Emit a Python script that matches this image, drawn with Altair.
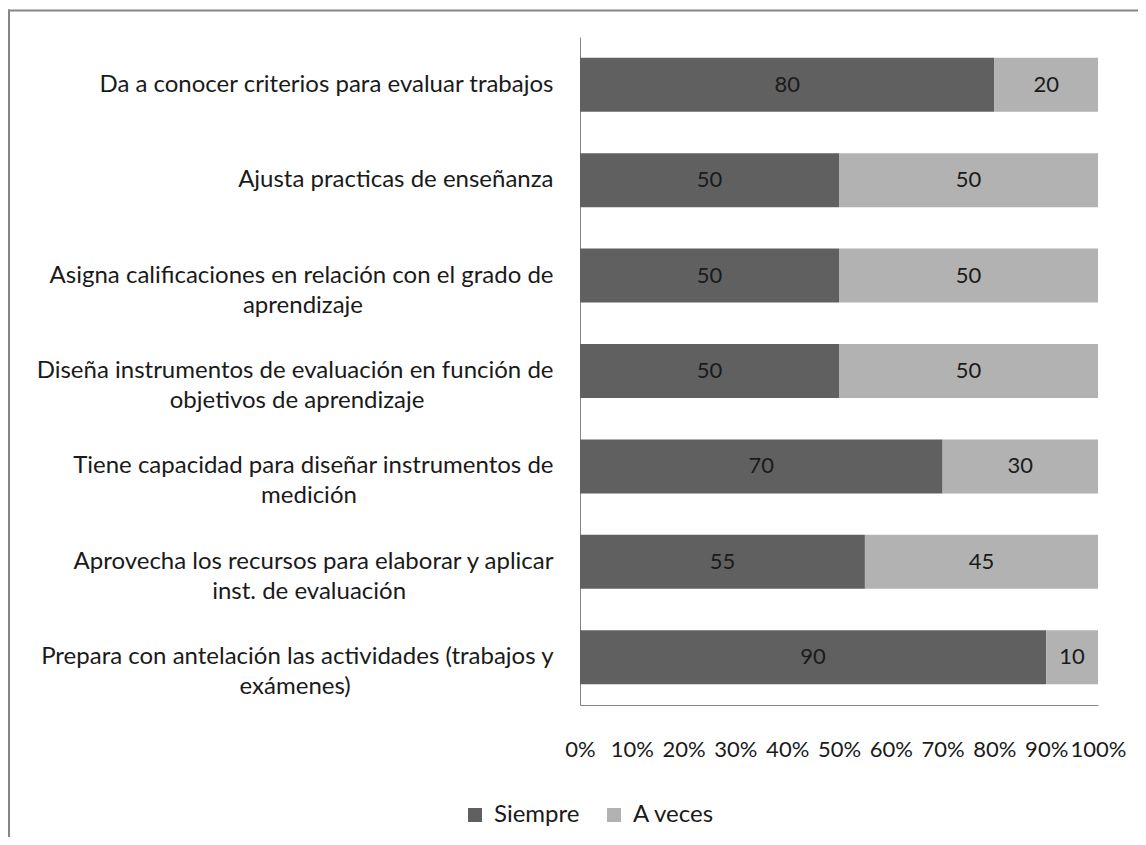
import altair as alt
import pandas as pd

# ---- data ----
categories = [
    ["Da a conocer criterios para evaluar trabajos"],
    ["Ajusta practicas de enseñanza"],
    ["Asigna calificaciones en relación con el grado de", "aprendizaje"],
    ["Diseña instrumentos de evaluación en función de", "objetivos de aprendizaje"],
    ["Tiene capacidad para diseñar instrumentos de", "medición"],
    ["Aprovecha los recursos para elaborar y aplicar", "inst. de evaluación"],
    ["Prepara con antelación las actividades (trabajos y", "exámenes)"],
]
siempre = [80, 50, 50, 50, 70, 55, 90]
a_veces = [20, 50, 50, 50, 30, 45, 10]
series = ["Siempre", "A veces"]
x_ticks = [0, 0.1, 0.2, 0.3, 0.4, 0.5, 0.6, 0.7, 0.8, 0.9, 1.0]

FONT = "Lato"
FS = 22
FS_CAT = 24

# rough glyph widths (em) to centre a second line under the first
_W = {"i": 0.23, "l": 0.23, "j": 0.23, "t": 0.33, "f": 0.31, "r": 0.36,
      " ": 0.19, ".": 0.2, "(": 0.3, ")": 0.3, "m": 0.83, "w": 0.75}
NBSP_EM = 0.25


def text_w(s):
    tot = 0.0
    for ch in s:
        if ch in _W:
            tot += _W[ch]
        elif ch.isupper():
            tot += 0.65
        else:
            tot += 0.52
    return tot


def make_label(lines):
    if len(lines) == 1:
        return lines[0]
    pad = max(0, round((text_w(lines[0]) - text_w(lines[1])) / 2 / NBSP_EM))
    return lines[0] + "\n" + lines[1] + "\u00a0" * pad + "\u200b"


labels = [make_label(c) for c in categories]

rows = []
for lab, s, a in zip(labels, siempre, a_veces):
    rows.append({"cat": lab, "serie": series[0], "value": s, "orden": 0})
    rows.append({"cat": lab, "serie": series[1], "value": a, "orden": 1})
df = pd.DataFrame(rows)

base = alt.Chart(df).transform_stack(
    stack="value",
    groupby=["cat"],
    as_=["x0", "x1"],
    sort=[alt.SortField("orden", order="ascending")],
    offset="normalize",
).transform_calculate(mid="(datum.x0 + datum.x1) / 2")

y_enc = alt.Y(
    "cat:N",
    sort=labels,
    scale=alt.Scale(paddingInner=0.434, paddingOuter=0.217),
    axis=alt.Axis(
        title=None,
        ticks=False,
        domainColor="#868686",
        domainWidth=1,
        labelFont=FONT,
        labelFontSize=FS_CAT,
        labelColor="#1a1a1a",
        labelPadding=27,
        labelLimit=700,
        labelLineHeight=30,
        labelExpr="split(datum.label, '\\n')",
    ),
)

x_scale = alt.Scale(domain=[0, 1], nice=False)

bars = base.mark_bar().encode(
    y=y_enc,
    x=alt.X(
        "x0:Q",
        scale=x_scale,
        axis=alt.Axis(
            title=None,
            values=x_ticks,
            format=".0%",
            ticks=False,
            grid=False,
            domainColor="#868686",
            domainWidth=1,
            labelFont=FONT,
            labelFontSize=FS,
            labelColor="#1a1a1a",
            labelPadding=34,
            labelOverlap=False,
            labelFlush=False,
        ),
    ),
    x2="x1:Q",
    color=alt.Color(
        "serie:N",
        scale=alt.Scale(domain=series, range=["#606060", "#b2b2b2"]),
        legend=alt.Legend(
            title=None,
            orient="none",
            direction="horizontal",
            legendX=-117,
            legendY=766,
            symbolType="square",
            symbolSize=196,
            symbolStrokeWidth=0,
            labelFont=FONT,
            labelFontSize=FS_CAT,
            labelColor="#1a1a1a",
            labelOffset=7,
            columnPadding=22,
        ),
    ),
)

labels_txt = base.mark_text(
    font=FONT, fontSize=FS, color="#1a1a1a", align="center", baseline="middle"
).encode(
    y=alt.Y("cat:N", sort=labels),
    x=alt.X("mid:Q", scale=x_scale),
    text=alt.Text("value:Q"),
)

frame_data = alt.Data(values=[{}])
frame_top = alt.Chart(frame_data).mark_rule(color="#868686", strokeWidth=2).encode(
    x=alt.value(-572), x2=alt.value(558), y=alt.value(-26.5)
)
frame_left = alt.Chart(frame_data).mark_rule(color="#868686", strokeWidth=2).encode(
    x=alt.value(-571), y=alt.value(-27.5), y2=alt.value(800)
)

chart = alt.layer(frame_top, frame_left, bars, labels_txt).properties(
    width=518,
    height=668,
    autosize=alt.AutoSizeParams(type="none"),
    padding={"left": 572, "top": 29, "right": 40, "bottom": 132},
    background="white",
).configure_view(stroke=None)

chart.save("out.html", embed_options={"renderer": "svg", "actions": False})
